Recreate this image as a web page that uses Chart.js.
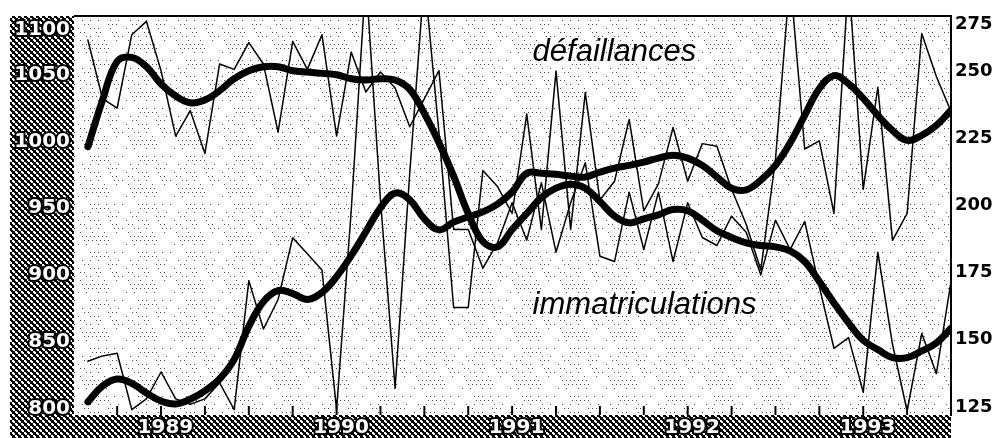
<!DOCTYPE html>
<html lang="fr">
<head>
<meta charset="utf-8">
<title>Défaillances et immatriculations</title>
<script src="https://cdn.jsdelivr.net/npm/chart.js@4.4.1/dist/chart.umd.min.js"></script>
<style>
    html, body { margin: 0; padding: 0; background: #fff; }
    #wrap { width: 998px; height: 438px; }
</style>
</head>
<body>
<div id="wrap"><canvas id="chart" width="998" height="438"></canvas></div>
<script>
    // mois : 0 = janvier 1989 ... 59 = décembre 1993
    const yearLabels = ['1989', '1990', '1991', '1992', '1993'];
    const yearPos = [5.3, 17.3, 29.3, 41.3, 53.3];
    const quarterMarks = [2, 5, 8, 11, 14, 17, 20, 23, 26, 29, 32, 35, 38, 41, 44, 47, 50, 53, 56];
    const leftTicks = [800, 850, 900, 950, 1000, 1050, 1100];
    const rightTicks = [125, 150, 175, 200, 225, 250, 275];

    // immatriculations (échelle de gauche)
    const immatMonthly = [
        1076, 1032, 1025, 1080, 1090, 1053, 1004, 1023, 991, 1058,
        1054, 1074, 1058, 1007, 1075, 1054, 1080, 1004, 1067, 1037,
        1052, 1040, 1011, 1032, 1053, 934, 934, 905, 924, 954,
        926, 969, 917, 954, 984, 914, 910, 962, 919, 962,
        910, 954, 928, 922, 944, 932, 900, 941, 919, 940,
        891, 845, 853, 812, 917, 848, 798, 856, 826, 895
    ];
    const immatTrend = [
        996, 1031, 1060, 1063, 1056, 1043, 1034, 1029, 1031, 1038,
        1047, 1053, 1056, 1056, 1053, 1052, 1051, 1050, 1047, 1046,
        1047, 1046, 1039, 1021, 999, 974, 946, 925, 921, 934,
        946, 958, 965, 968, 965, 955, 944, 939, 942, 945,
        949, 948, 941, 933, 928, 924, 922, 921, 918, 910,
        895, 879, 864, 851, 844, 838, 838, 843, 849, 860
    ];

    // défaillances (échelle de droite)
    const defailMonthly = [
        142, 144, 145, 124, 128, 138, 128, 126, 128, 134,
        124, 172, 154, 165, 188, 182, 176, 124, 198, 285,
        202, 132, 212, 285, 227, 162, 162, 213, 207, 197,
        234, 191, 250, 191, 242, 202, 209, 232, 198, 208,
        229, 209, 223, 222, 206, 193, 176, 217, 285, 221,
        224, 197, 285, 206, 244, 187, 197, 264, 248, 235
    ];
    const defailTrend = [
        126.9, 132.8, 135.4, 133.8, 130.2, 127.2, 126.1, 127.9, 131, 135.4,
        142.7, 155, 164.2, 168.3, 167.2, 165, 167.6, 173.5, 181.3, 190.2,
        199.1, 204.6, 202.1, 195, 190.9, 193.8, 195.7, 197.6, 200.5, 205,
        212, 212, 211.6, 210.9, 210.6, 212.4, 213.9, 214.9, 216.1, 217.6,
        218.7, 217.6, 214.9, 210.6, 206.4, 205.8, 209.4, 214.9, 223.2, 233.5,
        243.5, 248.3, 245.3, 239.8, 233.5, 227.9, 224.2, 226.1, 229.8, 235.4
    ];

    // libellés dans le graphique
    const noteTexts = ['défaillances', 'immatriculations'];
    const noteMonths = [30.4, 30.4];
    const noteValues = [1060, 871];

    const toPoints = arr => arr.map((v, i) => ({ x: i, y: v }));

    // trame de points du fond (semis irrégulier mais fixe)
    function dotPattern(ctx) {
        const size = 48;
        const c = document.createElement('canvas');
        c.width = size; c.height = size;
        const p = c.getContext('2d');
        p.fillStyle = '#fff';
        p.fillRect(0, 0, size, size);
        p.fillStyle = '#444';
        for (let y = 0; y < size; y += 4) {
            for (let x = (y % 8 === 0 ? 0 : 2); x < size; x += 4) {
                if (((x * 7 + y * 13 + (x * y) % 11) % 9) < 4) p.fillRect(x, y, 1, 1);
            }
        }
        return ctx.createPattern(c, 'repeat');
    }
    // trame quadrillée des marges
    function hatchPattern(ctx) {
        const c = document.createElement('canvas');
        c.width = 6; c.height = 6;
        const p = c.getContext('2d');
        p.fillStyle = '#000';
        p.fillRect(0, 0, 6, 6);
        p.fillStyle = '#fff';
        [[1, 0], [0, 1], [1, 1], [2, 1], [1, 2], [2, 2], [0, 0],
         [4, 3], [3, 4], [4, 4], [5, 4], [4, 5], [5, 5], [3, 3]]
            .forEach(([x, y]) => p.fillRect(x, y, 1, 1));
        return ctx.createPattern(c, 'repeat');
    }

    const backdrop = {
        id: 'backdrop',
        beforeDraw(chart) {
            const { ctx, chartArea: a, width, height } = chart;
            ctx.save();
            ctx.fillStyle = '#fff';
            ctx.fillRect(0, 0, width, height);
            ctx.fillStyle = dotPattern(ctx);
            ctx.fillRect(a.left, a.top, a.right - a.left, a.bottom - a.top);
            ctx.fillStyle = hatchPattern(ctx);
            ctx.fillRect(10, a.top, a.left - 10, height - a.top);
            ctx.fillRect(10, a.bottom, a.right - 10, height - a.bottom);
            ctx.restore();
        },
        afterDatasetsDraw(chart) {
            const { ctx, chartArea: a, scales } = chart;
            ctx.save();
            // cadre du haut
            ctx.strokeStyle = '#000';
            ctx.lineWidth = 2;
            ctx.beginPath();
            ctx.moveTo(a.left, a.top);
            ctx.lineTo(a.right, a.top);
            ctx.stroke();
            // petites graduations trimestrielles
            quarterMarks.forEach(m => {
                const x = scales.x.getPixelForValue(m);
                ctx.beginPath();
                ctx.moveTo(x, a.bottom);
                ctx.lineTo(x, a.bottom - 9);
                ctx.stroke();
            });
            // libellés des courbes
            ctx.fillStyle = '#000';
            ctx.font = 'italic 31px "Liberation Sans"';
            ctx.textBaseline = 'alphabetic';
            ctx.textAlign = 'left';
            noteTexts.forEach((t, i) => {
                ctx.fillText(t, scales.x.getPixelForValue(noteMonths[i]), scales.y.getPixelForValue(noteValues[i]));
            });
            ctx.restore();
        }
    };

    const lineData = {
        datasets: [
            {
                label: 'immatriculations (tendance)',
                data: toPoints(immatTrend),
                yAxisID: 'y',
                borderColor: '#000',
                borderWidth: 7,
                tension: 0.4,
                order: 0
            },
            {
                label: 'défaillances (tendance)',
                data: toPoints(defailTrend),
                yAxisID: 'y2',
                borderColor: '#000',
                borderWidth: 7,
                tension: 0.4,
                order: 0
            },
            {
                label: 'immatriculations',
                data: toPoints(immatMonthly),
                yAxisID: 'y',
                borderColor: '#000',
                borderWidth: 1.5,
                tension: 0,
                order: 1
            },
            {
                label: 'défaillances',
                data: toPoints(defailMonthly),
                yAxisID: 'y2',
                borderColor: '#000',
                borderWidth: 1.5,
                tension: 0,
                order: 1
            }
        ]
    };

    const lineOptions = {
        responsive: false,
        animation: false,
        devicePixelRatio: 1,
        layout: { padding: { top: 13, left: 0, right: 0, bottom: 0 } },
        elements: {
            point: { radius: 0, hoverRadius: 0 },
            line: { borderCapStyle: 'round', borderJoinStyle: 'round' }
        },
        plugins: {
            legend: { display: false },
            tooltip: { enabled: false }
        },
        scales: {
            x: {
                type: 'linear',
                min: -0.95,
                max: 59,
                afterFit: s => { s.height = 23; },
                afterBuildTicks: s => { s.ticks = yearPos.map(v => ({ value: v })); },
                grid: { display: false, drawTicks: false },
                border: { display: false },
                ticks: {
                    padding: 1,
                    autoSkip: false,
                    maxRotation: 0,
                    color: '#fff',
                    textStrokeColor: '#000',
                    textStrokeWidth: 4,
                    font: { family: 'DejaVu Sans', size: 20, weight: 'bold' },
                    callback: (v, i) => yearLabels[i]
                }
            },
            y: {
                position: 'left',
                min: 795,
                max: 1094,
                afterFit: s => { s.width = 74; },
                // le libellé du haut reste sous le cadre
                afterBuildTicks: s => { s.ticks = leftTicks.map(v => ({ value: Math.min(v, s.max - 10) })); },
                grid: { display: false, drawTicks: false },
                border: { display: false },
                ticks: {
                    padding: 4,
                    color: '#fff',
                    textStrokeColor: '#000',
                    textStrokeWidth: 4,
                    font: { family: 'DejaVu Sans', size: 20, weight: 'bold' },
                    callback: (v, i) => String(leftTicks[i])
                }
            },
            y2: {
                position: 'right',
                min: 122,
                max: 270.5,
                afterFit: s => { s.width = 47; },
                afterBuildTicks: s => { s.ticks = rightTicks.map(v => ({ value: Math.min(v, s.max - 3) })); },
                grid: { display: false, drawTicks: false },
                border: { display: true, color: '#000', width: 2 },
                ticks: {
                    padding: 4,
                    color: '#000',
                    font: { family: 'DejaVu Sans', size: 18, weight: 'bold' },
                    callback: (v, i) => String(rightTicks[i])
                }
            }
        }
    };

    const chartInfo = {
        type: 'line',
        data: lineData,
        options: lineOptions,
        plugins: [backdrop]
    };

    const mainChart = new Chart(document.getElementById('chart'), chartInfo);
</script>
</body>
</html>
